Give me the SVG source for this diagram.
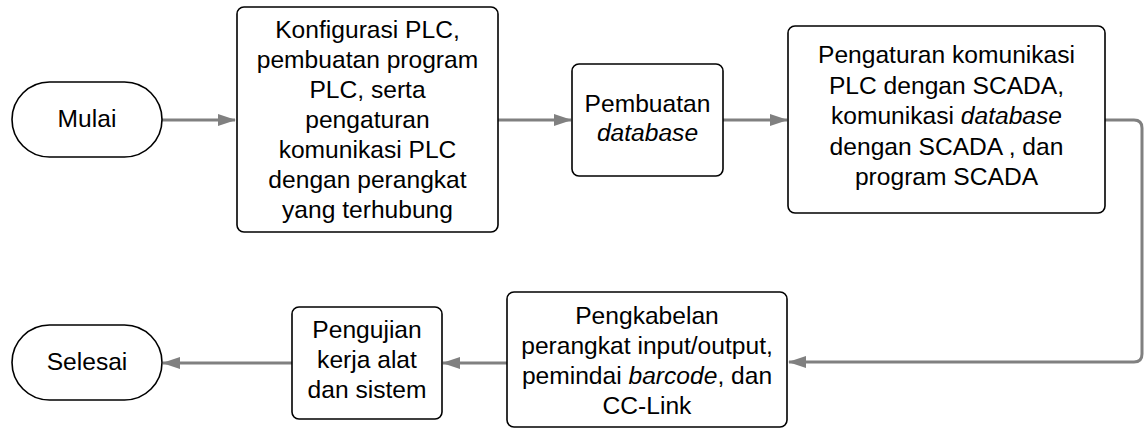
<svg xmlns="http://www.w3.org/2000/svg" width="1145" height="429" viewBox="0 0 1145 429">
<defs>
<style>
.n{fill:#fff;stroke:#000;stroke-width:1.6}
.t{font-family:"Liberation Sans",Arial,sans-serif;font-size:24.6px;fill:#000;text-anchor:middle}
.c{fill:none;stroke:#808080;stroke-width:3}
</style>
<marker id="ah" viewBox="0 0 18 12" refX="17" refY="6" markerWidth="18" markerHeight="12" markerUnits="userSpaceOnUse" orient="auto">
<path d="M0,0 L18,6 L0,12 z" fill="#808080"/>
</marker>
</defs>
<rect width="1145" height="429" fill="#fff"/>
<g id="connectors">
<path class="c" d="M162,120 H235" marker-end="url(#ah)"/>
<path class="c" d="M498,120 H571" marker-end="url(#ah)"/>
<path class="c" d="M723,120 H787" marker-end="url(#ah)"/>
<path class="c" d="M1105,120 H1134 Q1142,120 1142,128 V354 Q1142,362 1134,362 H789" marker-end="url(#ah)"/>
<path class="c" d="M507,363 H443" marker-end="url(#ah)"/>
<path class="c" d="M292,363 H163" marker-end="url(#ah)"/>
</g>
<g id="mulai">
<rect class="n" x="12" y="82" width="150" height="75" rx="37.5"/>
<text class="t" x="87" y="127">Mulai</text>
</g>
<g id="konfigurasi">
<rect class="n" x="237" y="7" width="261" height="225" rx="7"/>
<text class="t" x="367.5" y="38">Konfigurasi PLC,</text>
<text class="t" x="367.5" y="68">pembuatan program</text>
<text class="t" x="367.5" y="98">PLC, serta</text>
<text class="t" x="367.5" y="128">pengaturan</text>
<text class="t" x="367.5" y="158">komunikasi PLC</text>
<text class="t" x="367.5" y="188">dengan perangkat</text>
<text class="t" x="367.5" y="218">yang terhubung</text>
</g>
<g id="pembuatan">
<rect class="n" x="572" y="64" width="151" height="112" rx="7"/>
<text class="t" x="647.5" y="112">Pembuatan</text>
<text class="t" x="647.5" y="141" font-style="italic">database</text>
</g>
<g id="pengaturan">
<rect class="n" x="788" y="26" width="317" height="187" rx="7"/>
<text class="t" x="946.5" y="63">Pengaturan komunikasi</text>
<text class="t" x="946.5" y="93.5">PLC dengan SCADA,</text>
<text class="t" x="946.5" y="124">komunikasi <tspan font-style="italic">database</tspan></text>
<text class="t" x="946.5" y="154.5">dengan SCADA , dan</text>
<text class="t" x="946.5" y="185">program SCADA</text>
</g>
<g id="pengkabelan">
<rect class="n" x="507" y="292" width="280" height="135" rx="7"/>
<text class="t" x="647" y="324">Pengkabelan</text>
<text class="t" x="647" y="354">perangkat input/output,</text>
<text class="t" x="647" y="384">pemindai <tspan font-style="italic">barcode</tspan>, dan</text>
<text class="t" x="647" y="414">CC-Link</text>
</g>
<g id="pengujian">
<rect class="n" x="292" y="307" width="150" height="112" rx="7"/>
<text class="t" x="367" y="338">Pengujian</text>
<text class="t" x="367" y="368">kerja alat</text>
<text class="t" x="367" y="398">dan sistem</text>
</g>
<g id="selesai">
<rect class="n" x="12" y="325" width="150" height="75" rx="37.5"/>
<text class="t" x="87" y="370">Selesai</text>
</g>
</svg>
